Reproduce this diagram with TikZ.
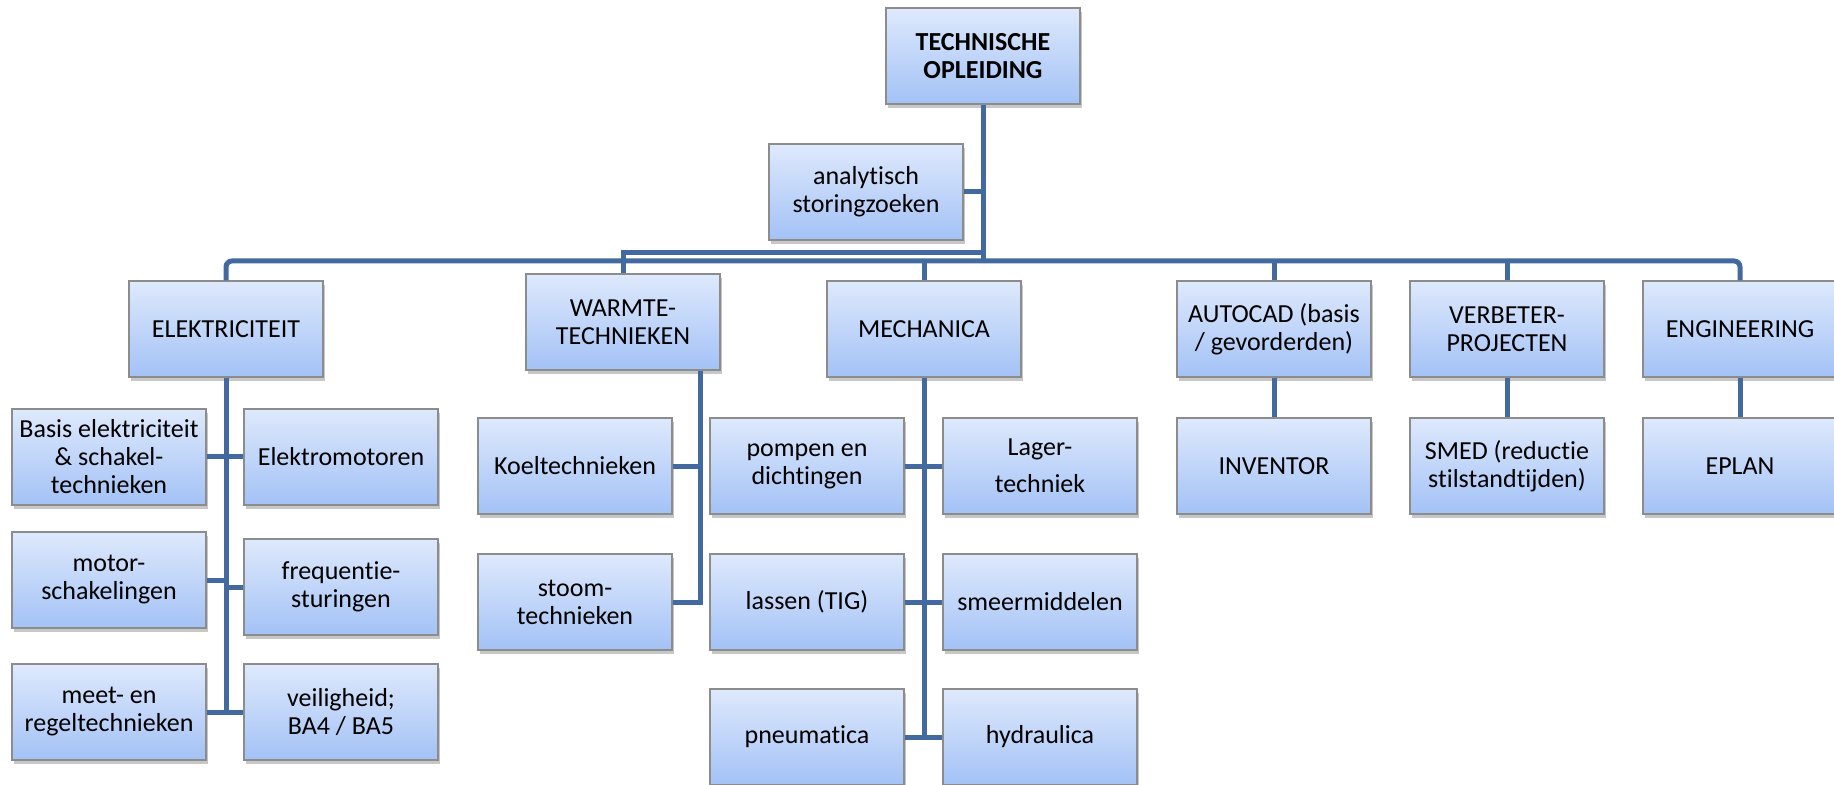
\documentclass[tikz,border=0pt]{standalone}
\usepackage{fontspec}
\setmainfont{Carlito}[Ligatures={NoCommon}]
\usetikzlibrary{shadows}
\definecolor{linkblue}{RGB}{66,106,160}
\definecolor{boxtop}{RGB}{222,233,252}
\definecolor{boxbot}{RGB}{163,194,246}
\definecolor{boxline}{RGB}{140,140,140}
\tikzset{ every node/.style={rectangle,draw=boxline,line width=0.7pt,top color=boxtop,bottom color=boxbot,
    drop shadow={shadow xshift=0.8pt,shadow yshift=-1.8pt,opacity=0.22,fill=black},
    minimum width=97pt,minimum height=48pt,inner sep=2pt,align=center,
    font=\fontsize{13}{14}\selectfont},
  link/.style={draw=linkblue,line width=2.5pt}}

\begin{document}
\begin{tikzpicture}[x=0.5pt,y=-0.5pt]
  \useasboundingbox (0,0) rectangle (1834,785);
  \clip (0,0) rectangle (1834,785);
  \node (top) at (983,56) [font=\fontsize{13}{14}\selectfont\bfseries] {TECHNISCHE\\OPLEIDING};
  \foreach \pos/\name/\txt in {{(866,192)/ana/{analytisch\\storingzoeken}},
      {(226,329)/elek/{ELEKTRICITEIT}}, {(623,322)/warm/{WARMTE-\\TECHNIEKEN}},
      {(924,329)/mech/{MECHANICA}}, {(1274,329)/auto/{AUTOCAD (basis\\ / gevorderden)}},
      {(1507,329)/verb/{VERBETER-\\PROJECTEN}}, {(1740,329)/eng/{ENGINEERING}},
      {(1274,466)/inv/{INVENTOR}}, {(1507,466)/smed/{SMED (reductie\\stilstandtijden)}},
      {(1740,466)/eplan/{EPLAN}},
      {(109,457)/basis/{Basis elektriciteit\\\& schakel-\\technieken}}, {(341,457)/emot/{Elektromotoren}},
      {(109,580)/motor/{motor-\\schakelingen}}, {(341,587)/freq/{frequentie-\\sturingen}},
      {(109,712)/meet/{meet- en\\regeltechnieken}}, {(341,712)/veil/{veiligheid;\\BA4 / BA5}},
      {(575,466)/koel/{Koeltechnieken}}, {(575,602)/stoom/{stoom-\\technieken}},
      {(807,466)/pomp/{pompen en\\dichtingen}}, {(1040,466)/lager/{Lager-\\[4.5pt]techniek}},
      {(807,602)/lassen/{lassen (TIG)}}, {(1040,602)/smeer/{smeermiddelen}},
      {(807,737)/pneu/{pneumatica}}, {(1040,737)/hydr/{hydraulica}}}
        \node (\name) at \pos {\txt};

  % main bus
  \coordinate (bus) at (983,261);
  \coordinate (wbus) at (983,253);
  \coordinate (wtrunk) at ([xshift=-10pt]warm.south east);
  \draw[link] (top.south) -- (top.south |- bus);
  \draw[link] (ana.east) -- (ana.east -| bus);
  \draw[link,rounded corners=3pt] (elek.north) |- (bus) -| (eng.north);
  \draw[link] (warm.north) |- (wbus);
  \foreach \n in {mech, auto, verb}
	\draw[link] (\n.north) -- (\n.north |- bus);
  % branches
  \draw[link] (elek.south) -- (elek.south |- meet.east);
  \draw[link] (mech.south) -- (mech.south |- pneu.east);
  \draw[link] (wtrunk) |- (stoom.east);
  \draw[link] (koel.east) -- (koel.east -| wtrunk);
  \foreach \from/\to in {basis/elek, motor/elek, meet/elek, pomp/mech, lassen/mech, pneu/mech}
	\draw[link] (\from.east) -- (\from.east -| \to.south);
  \foreach \from/\to in {emot/elek, freq/elek, veil/elek, lager/mech, smeer/mech, hydr/mech}
	\draw[link] (\from.west) -- (\from.west -| \to.south);
  \foreach \from/\to in {auto/inv, verb/smed, eng/eplan}
	\draw[link] (\from) -- (\to);
\end{tikzpicture}
\end{document}
